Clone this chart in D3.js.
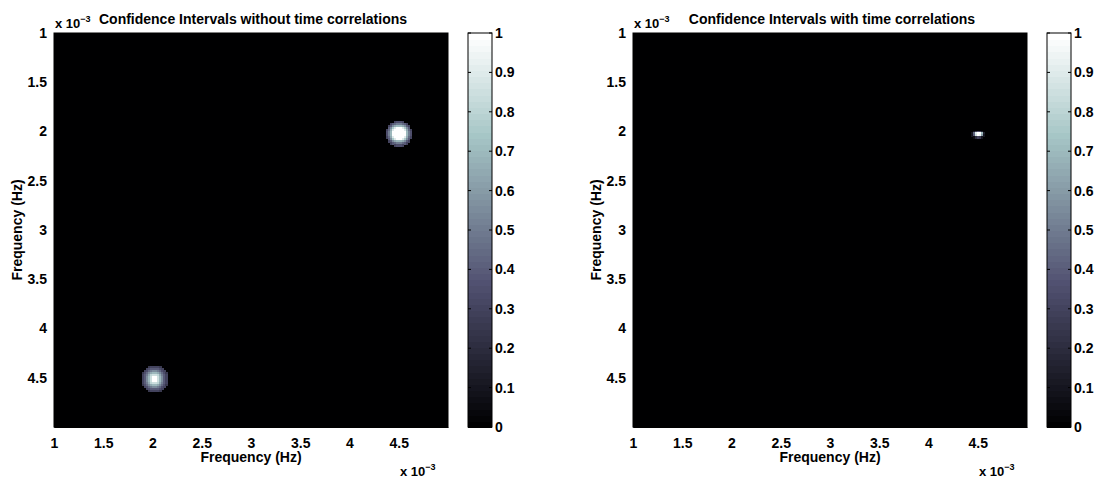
<!DOCTYPE html>
<html>
<head>
<meta charset="utf-8">
<script src="https://cdn.jsdelivr.net/npm/d3@7/dist/d3.min.js"></script>
<style>
  html, body { margin: 0; padding: 0; background: #fff; }
  svg text { font-family: "Liberation Sans", Arial, Helvetica, sans-serif; font-weight: bold; fill: #000; }
</style>
</head>
<body>
<svg id="chart" width="1111" height="480"></svg>
<script>
// Frequency axes, in units of 10^-3 Hz
const freqDomain = [1, 5];
const freqTicks = [1, 1.5, 2, 2.5, 3, 3.5, 4, 4.5];
const freqTickLabels = ["1", "1.5", "2", "2.5", "3", "3.5", "4", "4.5"];
const freqStep = 0.02;            // grid spacing of the confidence maps (10^-3 Hz)

// Colour scale
const cbTicks = [0, 0.1, 0.2, 0.3, 0.4, 0.5, 0.6, 0.7, 0.8, 0.9, 1];
const cbTickLabels = ["0", "0.1", "0.2", "0.3", "0.4", "0.5", "0.6", "0.7", "0.8", "0.9", "1"];

const titles = ["Confidence Intervals without time correlations", "Confidence Intervals with time correlations"];

// Non-zero patches of each map: centre frequency (x, y) and the cell values around it.
// Everything outside these patches is 0.
const peakCentreA = [4.5, 2.02];
const peakValuesA = [
  [0, 0, 0, 0, 0.3, 0.35, 0.35, 0.35, 0.3, 0, 0, 0, 0],
  [0, 0, 0.3, 0.4, 0.45, 0.5, 0.5, 0.5, 0.45, 0.4, 0.3, 0, 0],
  [0, 0.3, 0.4, 0.55, 0.65, 0.7, 0.7, 0.7, 0.65, 0.55, 0.4, 0.3, 0],
  [0, 0.4, 0.55, 0.75, 0.9, 1, 1, 1, 0.9, 0.75, 0.55, 0.4, 0],
  [0.3, 0.45, 0.65, 0.9, 1, 1, 1, 1, 1, 0.9, 0.65, 0.45, 0.3],
  [0.35, 0.5, 0.7, 1, 1, 1, 1, 1, 1, 1, 0.7, 0.5, 0.35],
  [0.35, 0.5, 0.7, 1, 1, 1, 1, 1, 1, 1, 0.7, 0.5, 0.35],
  [0.35, 0.5, 0.7, 1, 1, 1, 1, 1, 1, 1, 0.7, 0.5, 0.35],
  [0.3, 0.45, 0.65, 0.9, 1, 1, 1, 1, 1, 0.9, 0.65, 0.45, 0.3],
  [0, 0.4, 0.55, 0.75, 0.9, 1, 1, 1, 0.9, 0.75, 0.55, 0.4, 0],
  [0, 0.3, 0.4, 0.55, 0.65, 0.7, 0.7, 0.7, 0.65, 0.55, 0.4, 0.3, 0],
  [0, 0, 0.3, 0.4, 0.45, 0.5, 0.5, 0.5, 0.45, 0.4, 0.3, 0, 0],
  [0, 0, 0, 0, 0.3, 0.35, 0.35, 0.35, 0.3, 0, 0, 0, 0]
];

const peakCentreB = [2.02, 4.51];
const peakValuesB = [
  [0, 0, 0, 0.25, 0.3, 0.3, 0.3, 0.3, 0.3, 0.25, 0, 0, 0],
  [0, 0, 0.3, 0.35, 0.4, 0.4, 0.4, 0.4, 0.4, 0.35, 0.3, 0, 0],
  [0, 0.3, 0.35, 0.45, 0.5, 0.55, 0.55, 0.55, 0.5, 0.45, 0.35, 0.3, 0],
  [0.25, 0.35, 0.45, 0.55, 0.65, 0.7, 0.7, 0.7, 0.65, 0.55, 0.45, 0.35, 0.25],
  [0.3, 0.4, 0.5, 0.65, 0.8, 0.85, 0.85, 0.85, 0.8, 0.65, 0.5, 0.4, 0.3],
  [0.3, 0.4, 0.55, 0.7, 0.85, 1, 1, 1, 0.85, 0.7, 0.55, 0.4, 0.3],
  [0.3, 0.4, 0.55, 0.7, 0.85, 1, 1, 1, 0.85, 0.7, 0.55, 0.4, 0.3],
  [0.3, 0.4, 0.55, 0.7, 0.85, 1, 1, 1, 0.85, 0.7, 0.55, 0.4, 0.3],
  [0.3, 0.4, 0.5, 0.65, 0.8, 0.85, 0.85, 0.85, 0.8, 0.65, 0.5, 0.4, 0.3],
  [0.25, 0.35, 0.45, 0.55, 0.65, 0.7, 0.7, 0.7, 0.65, 0.55, 0.45, 0.35, 0.25],
  [0, 0.3, 0.35, 0.45, 0.5, 0.55, 0.55, 0.55, 0.5, 0.45, 0.35, 0.3, 0],
  [0, 0, 0.3, 0.35, 0.4, 0.4, 0.4, 0.4, 0.4, 0.35, 0.3, 0, 0],
  [0, 0, 0, 0.25, 0.3, 0.3, 0.3, 0.3, 0.3, 0.25, 0, 0, 0]
];

const peakCentreC = [4.5, 2.03];
const peakValuesC = [
  [0, 0.1, 0.25, 0.35, 0.3, 0.15, 0],
  [0.1, 0.45, 0.9, 1, 1, 0.7, 0.15],
  [0.1, 0.4, 0.85, 1, 0.95, 0.6, 0.1],
  [0, 0.05, 0.2, 0.3, 0.25, 0.1, 0]
];

const panelPeaks = [
  [{ centre: peakCentreA, values: peakValuesA }, { centre: peakCentreB, values: peakValuesB }],
  [{ centre: peakCentreC, values: peakValuesC }]
];

// MATLAB "bone" colormap, 64 levels: (7*gray + fliplr(hot)) / 8
const nLevels = 64;
const bone = d3.range(nLevels).map(i => {
  const g = i / (nLevels - 1);
  const n1 = 24, n2 = 24;
  const hr = i < n1 ? (i + 1) / n1 : 1;
  const hg = i < n1 ? 0 : (i < n1 + n2 ? (i - n1 + 1) / n2 : 1);
  const hb = i < n1 + n2 ? 0 : (i - n1 - n2 + 1) / (nLevels - n1 - n2);
  return d3.rgb(255 * (7 * g + hb) / 8, 255 * (7 * g + hg) / 8, 255 * (7 * g + hr) / 8).formatHex();
});
const colour = v => bone[Math.max(0, Math.min(nLevels - 1, Math.floor(v * nLevels)))];

const svg = d3.select("#chart");

const layout = [
  { left: 54, right: 448, cbLeft: 468 },
  { left: 633, right: 1027, cbLeft: 1047 }
];
const plotTop = 33, plotBottom = 427, cbWidth = 24;
const fontSize = "14px";

function sciLabel(g, x, y) {
  const t = g.append("text").attr("x", x).attr("y", y).style("font-size", "13px");
  t.append("tspan").text("x 10");
  t.append("tspan").attr("dy", -6).style("font-size", "9px").text("\u22123");
}

layout.forEach((L, p) => {
  const g = svg.append("g");
  const x = d3.scaleLinear().domain(freqDomain).range([L.left, L.right]);
  const y = d3.scaleLinear().domain(freqDomain).range([plotTop, plotBottom]);

  // zero background of the map
  g.append("rect")
    .attr("x", x(freqDomain[0])).attr("y", y(freqDomain[0]))
    .attr("width", x(freqDomain[1]) - x(freqDomain[0]))
    .attr("height", y(freqDomain[1]) - y(freqDomain[0]))
    .attr("fill", colour(0));

  // non-zero cells
  const cells = [];
  panelPeaks[p].forEach(pk => {
    const nr = pk.values.length, nc = pk.values[0].length;
    pk.values.forEach((row, r) => row.forEach((v, c) => {
      if (v > 0) cells.push({
        fx: pk.centre[0] + (c - (nc - 1) / 2) * freqStep,
        fy: pk.centre[1] + (r - (nr - 1) / 2) * freqStep,
        v
      });
    }));
  });
  const cw = x(freqStep) - x(0), ch = y(freqStep) - y(0);
  g.append("g").attr("shape-rendering", "crispEdges")
    .selectAll("rect").data(cells).join("rect")
    .attr("x", d => x(d.fx - freqStep / 2))
    .attr("y", d => y(d.fy - freqStep / 2))
    .attr("width", cw + 0.5)
    .attr("height", ch + 0.5)
    .attr("fill", d => colour(d.v));

  // axes
  const xAxis = d3.axisBottom(x).tickValues(freqTicks)
    .tickFormat((d, i) => freqTickLabels[i]).tickSizeInner(-4).tickSizeOuter(0).tickPadding(11);
  const yAxis = d3.axisLeft(y).tickValues(freqTicks)
    .tickFormat((d, i) => freqTickLabels[i]).tickSizeInner(-4).tickSizeOuter(0).tickPadding(7);
  [g.append("g").attr("transform", `translate(0,${plotBottom})`).call(xAxis),
   g.append("g").attr("transform", `translate(${L.left},0)`).call(yAxis)].forEach(a => {
    a.select(".domain").attr("stroke", "#000");
    a.selectAll(".tick line").attr("stroke", "#000");
    a.selectAll(".tick text").style("font-size", fontSize).attr("font-family", null);
  });
  g.append("rect").attr("x", L.left).attr("y", plotTop)
    .attr("width", L.right - L.left).attr("height", plotBottom - plotTop)
    .attr("fill", "none").attr("stroke", "#000");

  // title and labels
  g.append("text").attr("x", (L.left + L.right) / 2 + 2).attr("y", 24)
    .attr("text-anchor", "middle").style("font-size", fontSize).text(titles[p]);
  sciLabel(g, L.left + 1, 28);
  sciLabel(g, L.right - 48, 476);
  g.append("text").attr("x", (L.left + L.right) / 2).attr("y", 462)
    .attr("text-anchor", "middle").style("font-size", fontSize).text("Frequency (Hz)");
  g.append("text")
    .attr("transform", `translate(${L.left - 32},${(plotTop + plotBottom) / 2}) rotate(-90)`)
    .attr("text-anchor", "middle").style("font-size", fontSize).text("Frequency (Hz)");

  // colour bar
  const cy = d3.scaleLinear().domain([0, 1]).range([plotBottom, plotTop]);
  const cb = g.append("g");
  cb.append("g").attr("shape-rendering", "crispEdges")
    .selectAll("rect").data(bone).join("rect")
    .attr("x", L.cbLeft)
    .attr("y", (d, i) => cy((i + 1) / nLevels))
    .attr("width", cbWidth)
    .attr("height", (d, i) => cy(i / nLevels) - cy((i + 1) / nLevels) + 1)
    .attr("fill", d => d);
  const cAxis = d3.axisRight(cy).tickValues(cbTicks)
    .tickFormat((d, i) => cbTickLabels[i]).tickSizeInner(0).tickSizeOuter(0).tickPadding(3);
  const ca = cb.append("g").attr("transform", `translate(${L.cbLeft + cbWidth},0)`).call(cAxis);
  ca.select(".domain").remove();
  ca.selectAll(".tick text").style("font-size", fontSize).attr("font-family", null);
  cb.selectAll("line.tk").data(cbTicks).join("line").attr("class", "tk")
    .attr("x1", L.cbLeft).attr("x2", L.cbLeft + 3)
    .attr("y1", d => cy(d)).attr("y2", d => cy(d)).attr("stroke", "#000");
  cb.selectAll("line.tk2").data(cbTicks).join("line").attr("class", "tk2")
    .attr("x1", L.cbLeft + cbWidth - 3).attr("x2", L.cbLeft + cbWidth)
    .attr("y1", d => cy(d)).attr("y2", d => cy(d)).attr("stroke", "#000");
  cb.append("rect").attr("x", L.cbLeft).attr("y", plotTop)
    .attr("width", cbWidth).attr("height", plotBottom - plotTop)
    .attr("fill", "none").attr("stroke", "#000");
});
</script>
</body>
</html>
